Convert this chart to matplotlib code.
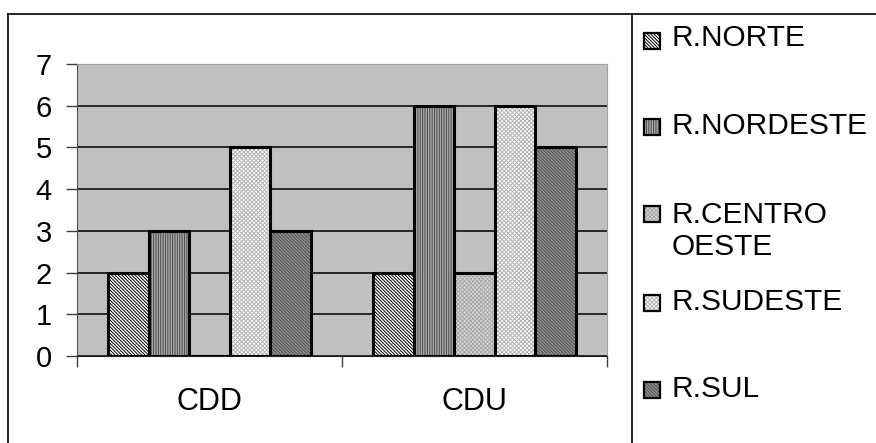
import matplotlib.pyplot as plt
from matplotlib.patches import Rectangle
from matplotlib.lines import Line2D
import numpy as np

plt.rcParams['font.family'] = ['Liberation Sans', 'DejaVu Sans']
plt.rcParams['hatch.linewidth'] = 0.7

categories = ['CDD', 'CDU']
regions = ['R.NORTE', 'R.NORDESTE', 'R.CENTRO\nOESTE', 'R.SUDESTE', 'R.SUL']
values = {
    'R.NORTE':         [2, 2],
    'R.NORDESTE':      [3, 6],
    'R.CENTRO\nOESTE': [0, 2],
    'R.SUDESTE':       [5, 6],
    'R.SUL':           [3, 5],
}
yticks = [0, 1, 2, 3, 4, 5, 6, 7]

# (face, hatch, hatch colour) per region
styles = [
    ('#ffffff', '\\' * 10, '#000000'),
    ('#a8a8a8', '|' * 7, '#4a4a4a'),
    ('#d8d8d8', 'x' * 8, '#a8a8a8'),
    ('#ffffff', 'x' * 8, '#b4b4b4'),
    ('#909090', '\\' * 10, '#505050'),
]

W, H = 876, 443
fig = plt.figure(figsize=(W / 100, H / 100), dpi=100)
ax = fig.add_axes([77 / W, 1 - 356 / H, 530 / W, 292 / H])
ax.set_facecolor('#c0c0c0')

x = np.arange(len(categories))
width = 0.153
for i, name in enumerate(regions):
    face, hatch, hcol = styles[i]
    pos = x + (i - 2) * width
    vals = values[name]
    ax.bar(pos, vals, width, color=face, edgecolor=hcol, hatch=hatch,
           linewidth=0, zorder=3)
    ax.bar(pos, vals, width, fill=False, edgecolor='black', linewidth=2.2,
           zorder=4)

ax.set_xlim(-0.5, 1.5)
ax.set_ylim(0, 7)
ax.set_yticks(yticks)
ax.yaxis.grid(True, color='black', linewidth=1.1, zorder=1)
ax.set_axisbelow(True)
ax.set_xticks(x)
ax.set_xticklabels(categories)
ax.set_xticks([-0.5, 0.5, 1.5], minor=True)
ax.tick_params(axis='x', which='major', length=0, pad=22, labelsize=22)
ax.tick_params(axis='x', which='minor', length=8, width=1, color='#404040')
ax.tick_params(axis='y', length=8, width=1, pad=10, labelsize=21,
               color='#404040')
for side in ('top', 'right'):
    ax.spines[side].set_color('#a0a0a0')
    ax.spines[side].set_linewidth(0.8)
ax.spines['left'].set_color('#505050')
ax.spines['bottom'].set_color('#202020')

# outer frame and legend separator
fig.add_artist(Line2D([8 / W, 1], [1 - 14 / H, 1 - 14 / H], color='black', lw=1.2))
fig.add_artist(Line2D([8 / W, 8 / W], [0, 1 - 14 / H], color='black', lw=1.2))
fig.add_artist(Line2D([632 / W, 632 / W], [0, 1 - 14 / H], color='black', lw=1.2))

# legend
marker_y = [41, 127, 214, 303, 390]
text_y = [38, 126, 231, 302, 389]
for i, name in enumerate(regions):
    face, hatch, hcol = styles[i]
    y0 = marker_y[i]
    fig.add_artist(Rectangle((644 / W, 1 - (y0 + 8) / H), 16 / W, 16 / H,
                             facecolor=face, edgecolor=hcol, hatch=hatch,
                             linewidth=0))
    fig.add_artist(Rectangle((644 / W, 1 - (y0 + 8) / H), 16 / W, 16 / H,
                             fill=False, edgecolor='black', linewidth=1.6))
    fig.text(672 / W, 1 - text_y[i] / H, name, fontsize=21.5, va='center',
             ha='left', linespacing=1.22)

fig.savefig('out.png', dpi=100)
